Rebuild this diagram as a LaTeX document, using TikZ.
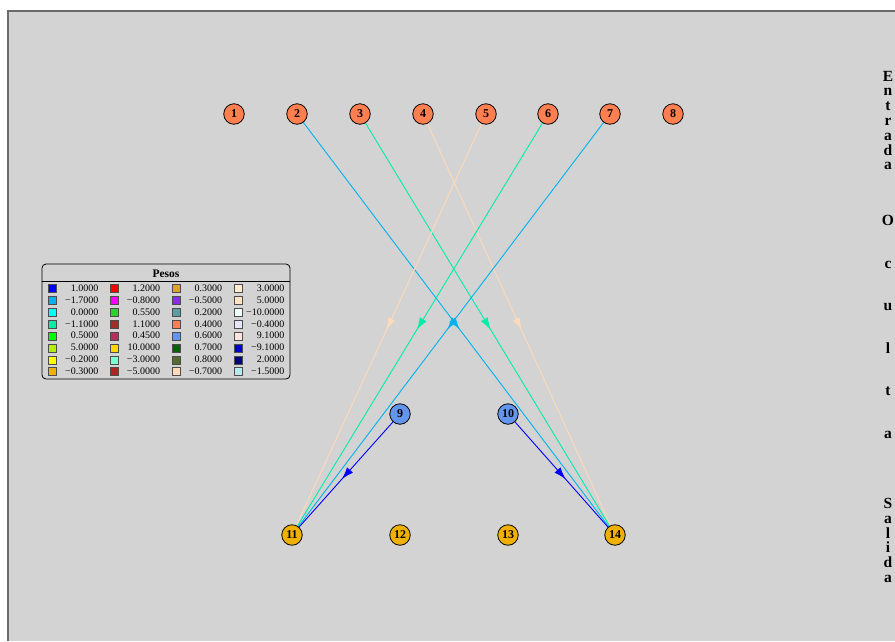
\documentclass[tikz,border=0pt]{standalone}
\usepackage{fontspec}
\setmainfont{Liberation Serif}
\usetikzlibrary{arrows.meta,decorations.markings}
\pgfdeclarelayer{bg}
\pgfdeclarelayer{edges}
\pgfsetlayers{bg,edges,main}
\definecolor{bgcol}{HTML}{D3D3D3}
\definecolor{framecol}{HTML}{6A6A6A}
\definecolor{incol}{HTML}{FF7F50}
\definecolor{hidcol}{HTML}{6495ED}
\definecolor{outcol}{HTML}{F0B000}
\definecolor{wskyb}{HTML}{00B2EE}
\definecolor{wspring}{HTML}{00EEA8}
\definecolor{wpeach}{HTML}{FFDAB9}
\definecolor{wblue}{HTML}{0000FF}
% legend colours
\definecolor{l11}{HTML}{0000FF}\definecolor{l12}{HTML}{00B2EE}\definecolor{l13}{HTML}{00FFFF}\definecolor{l14}{HTML}{00EEA8}
\definecolor{l15}{HTML}{00FF00}\definecolor{l16}{HTML}{B4EE00}\definecolor{l17}{HTML}{FFFF00}\definecolor{l18}{HTML}{F0B000}
\definecolor{l21}{HTML}{FF0000}\definecolor{l22}{HTML}{FF00FF}\definecolor{l23}{HTML}{32CD32}\definecolor{l24}{HTML}{A52A2A}
\definecolor{l25}{HTML}{B03060}\definecolor{l26}{HTML}{FFD700}\definecolor{l27}{HTML}{7FFFD4}\definecolor{l28}{HTML}{B22222}
\definecolor{l31}{HTML}{DAA520}\definecolor{l32}{HTML}{8A2BE2}\definecolor{l33}{HTML}{5F9EA0}\definecolor{l34}{HTML}{FF7F50}
\definecolor{l35}{HTML}{6495ED}\definecolor{l36}{HTML}{006400}\definecolor{l37}{HTML}{556B2F}\definecolor{l38}{HTML}{FFDAB9}
\definecolor{l41}{HTML}{FFEBCD}\definecolor{l42}{HTML}{FFE4C4}\definecolor{l43}{HTML}{F0FFFF}\definecolor{l44}{HTML}{E6E6FA}
\definecolor{l45}{HTML}{FFE4E1}\definecolor{l46}{HTML}{0000CD}\definecolor{l47}{HTML}{000080}\definecolor{l48}{HTML}{AFEEEE}
\begin{document}
\begin{tikzpicture}[x=1pt,y=-1pt,
  neuron/.style={circle,draw=black,line width=0.8pt,minimum size=20.5pt,inner sep=0pt,
    font=\fontsize{12}{12}\selectfont\bfseries},
  inp/.style={neuron,fill=incol},
  hid/.style={neuron,fill=hidcol},
  outp/.style={neuron,fill=outcol},
  conn/.style={line width=0.9pt,postaction={decorate},
    decoration={markings,mark=at position 0.5 with {\arrow[xshift=6pt]{Latex[length=12pt,width=8pt]}}}},
  swatch/.style={draw=black!70,line width=0.6pt,minimum size=8pt,inner sep=0pt},
  legval/.style={anchor=east,inner sep=0pt,font=\fontsize{10}{10}\selectfont},
  sidelabel/.style={anchor=base,inner sep=0pt,font=\fontsize{15.5}{15.5}\selectfont\bfseries}
]
\useasboundingbox (0,0) rectangle (895,641);
\begin{pgfonlayer}{bg}
  \fill[bgcol] (7,10) rectangle (895,641);
  \draw[framecol,line width=1.6pt] (7.8,641) -- (7.8,10.8) -- (895,10.8);
\end{pgfonlayer}

% input layer
\foreach \i/\x in {1/234,2/297,3/360,4/423,5/486,6/548,7/610,8/673}
  \node[inp] (n\i) at (\x,114) {\i};
% hidden layer
\node[hid] (n9) at (400,414) {9};
\node[hid] (n10) at (508,414) {10};
% output layer
\foreach \i/\x in {11/292,12/400,13/508,14/615}
  \node[outp] (n\i) at (\x,535) {\i};

% connections
\begin{pgfonlayer}{edges}
  \draw[conn,wskyb] (n2.center) -- (n14.center);
  \draw[conn,wspring] (n3.center) -- (n14.center);
  \draw[conn,wpeach] (n4.center) -- (n14.center);
  \draw[conn,wpeach] (n5.center) -- (n11.center);
  \draw[conn,wspring] (n6.center) -- (n11.center);
  \draw[conn,wskyb] (n7.center) -- (n11.center);
  \draw[conn,wblue] (n9.center) -- (n11.center);
  \draw[conn,wblue] (n10.center) -- (n14.center);
\end{pgfonlayer}

% legend
\draw[black,line width=0.8pt,fill=bgcol,rounded corners=4pt] (42,264) rectangle (290,379);
\draw[black,line width=0.6pt] (42,281.5) -- (290,281.5);
\node[font=\fontsize{11.5}{11.5}\selectfont\bfseries,inner sep=0pt] (legtitle) at (166,274) {Pesos};
\foreach \c/\sx/\vx in {1/52.3/98.5,2/114.3/160.3,3/176.3/222.3,4/238.3/284.5}{
  \foreach \r/\y in {1/288,2/300,3/312,4/324,5/336,6/348,7/359.8,8/371.5}{
    \node[swatch,fill=l\c\r] (sw\c\r) at (\sx,\y) {};
  }
}
\foreach \c/\vx/\vals in {
  1/98.5/{1.0000,−1.7000,0.0000,−1.1000,0.5000,5.0000,−0.2000,−0.3000},
  2/160.3/{1.2000,−0.8000,0.5500,1.1000,0.4500,10.0000,−3.0000,−5.0000},
  3/222.3/{0.3000,−0.5000,0.2000,0.4000,0.6000,0.7000,0.8000,−0.7000},
  4/284.5/{3.0000,5.0000,−10.0000,−0.4000,9.1000,−9.1000,2.0000,−1.5000}}{
  \foreach \v [count=\r] in \vals {
    \pgfmathsetmacro{\yy}{288+(\r-1)*11.93}
    \node[legval] (val\c\r) at (\vx,\yy) {\v};
  }
}

% side labels
\foreach \ch [count=\k] in {E,n,t,r,a,d,a}
  \node[sidelabel] (ent\k) at (888,{81+(\k-1)*14.8}) {\ch};
\foreach \ch [count=\k] in {O,c,u,l,t,a}
  \node[sidelabel] (ocu\k) at (888,{225.5+(\k-1)*42.5}) {\ch};
\foreach \ch [count=\k] in {S,a,l,i,d,a}
  \node[sidelabel] (sal\k) at (888,{508.5+(\k-1)*14.8}) {\ch};
\end{tikzpicture}
\end{document}
